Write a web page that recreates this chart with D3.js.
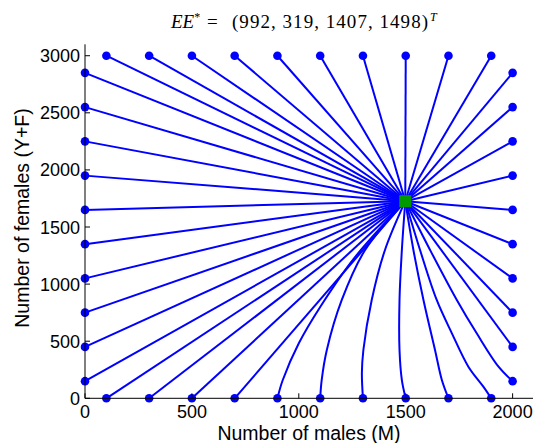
<!DOCTYPE html>
<html>
<head>
<meta charset="utf-8">
<script src="https://cdn.jsdelivr.net/npm/d3@7"></script>
<style>
  body { margin: 0; background: #fff; }
  svg { display: block; }
  .tick-label { font-family: "Liberation Sans", Arial, sans-serif; font-size: 18px; fill: #000; }
  .axis-label { font-family: "Liberation Sans", Arial, sans-serif; font-size: 19.5px; fill: #000; }
  .title { font-family: "Liberation Serif", "DejaVu Serif", serif; font-size: 19px; fill: #000; }
</style>
</head>
<body>
<svg id="chart"></svg>
<script>
// equilibrium (M, Y+F)
const eqPoint = [1498, 1726]

// start points on each edge
const bottomX = [100, 300, 500, 700, 900, 1100, 1300, 1500, 1700, 1900]
const topX = [100, 300, 500, 700, 900, 1100, 1300, 1500, 1700, 1900]
const leftY = [150, 450, 750, 1050, 1350, 1650, 1950, 2250, 2550, 2850]
const rightY = [150, 450, 750, 1050, 1350, 1650, 1950, 2250, 2550, 2850]

// points read along the bent trajectories (start and eq left out)
const bendsBottom = {
  900: [[925, 160], [1000, 482], [1100, 800], [1260, 1230]],
  1100: [[1107, 160], [1131, 423], [1201, 861], [1310, 1299]],
  1300: [[1295, 221], [1302, 423], [1341, 861], [1403, 1299]],
  1500: [[1482, 160], [1471, 423], [1471, 861], [1482, 1299]],
  1700: [[1669, 160], [1637, 423], [1583, 861], [1536, 1299]],
  1900: [[1863, 102], [1793, 277], [1716, 569], [1645, 861], [1567, 1299]]
}
const bendsRight = {
  150: [[1934, 277], [1832, 569], [1739, 861], [1614, 1299]]
}

const xTicks = [0, 500, 1000, 1500, 2000]
const yTicks = [0, 500, 1000, 1500, 2000, 2500, 3000]

const W = 533, H = 443

const svg = d3.select('#chart').attr('width', W).attr('height', H)

const x = d3.scaleLinear().domain([0, 2100]).range([85, 534])
const y = d3.scaleLinear().domain([0, 3100]).range([398.3, 44.3])

// build trajectories
const starts = []
const trajs = []
bottomX.forEach(v => {
    starts.push([v, 0])
    trajs.push([[v, 0], ...(bendsBottom[v] || []), eqPoint])
})
topX.forEach(v => {
    starts.push([v, 3000])
    trajs.push([[v, 3000], eqPoint])
})
leftY.forEach(v => {
    starts.push([0, v])
    trajs.push([[0, v], eqPoint])
})
rightY.forEach(v => {
    starts.push([2000, v])
    trajs.push([[2000, v], ...(bendsRight[v] || []), eqPoint])
})

const line = d3.line()
    .x(d => x(d[0]))
    .y(d => y(d[1]))
    .curve(d3.curveCatmullRom.alpha(0.5))

svg.append('g')
    .selectAll('path')
    .data(trajs)
    .enter()
    .append('path')
    .attr('d', line)
    .attr('fill', 'none')
    .attr('stroke', '#0000ff')
    .attr('stroke-width', 2)

svg.append('g')
    .selectAll('circle')
    .data(starts)
    .enter()
    .append('circle')
    .attr('cx', d => x(d[0]))
    .attr('cy', d => y(d[1]))
    .attr('r', 4.3)
    .attr('fill', '#0000ff')

svg.append('rect')
    .attr('x', x(eqPoint[0]) - 6)
    .attr('y', y(eqPoint[1]) - 6)
    .attr('width', 12)
    .attr('height', 12)
    .attr('fill', '#009a00')

// axes
const axisG = svg.append('g')
axisG.append('line')
    .attr('x1', x(0)).attr('x2', 534)
    .attr('y1', y(0)).attr('y2', y(0))
    .attr('stroke', '#000').attr('stroke-width', 1)
axisG.append('line')
    .attr('x1', x(0)).attr('x2', x(0))
    .attr('y1', y(0)).attr('y2', y(3100))
    .attr('stroke', '#000').attr('stroke-width', 1)

axisG.selectAll('.xt')
    .data(xTicks)
    .enter()
    .append('line')
    .attr('x1', d => x(d)).attr('x2', d => x(d))
    .attr('y1', y(0)).attr('y2', y(0) - 5)
    .attr('stroke', '#000')

axisG.selectAll('.xl')
    .data(xTicks)
    .enter()
    .append('text')
    .attr('class', 'tick-label')
    .attr('x', d => x(d))
    .attr('y', 418)
    .attr('text-anchor', 'middle')
    .text(d => d)

axisG.selectAll('.yt')
    .data(yTicks)
    .enter()
    .append('line')
    .attr('x1', x(0)).attr('x2', x(0) + 5)
    .attr('y1', d => y(d)).attr('y2', d => y(d))
    .attr('stroke', '#000')

axisG.selectAll('.yl')
    .data(yTicks)
    .enter()
    .append('text')
    .attr('class', 'tick-label')
    .attr('x', 80)
    .attr('y', d => y(d) + 6.5)
    .attr('text-anchor', 'end')
    .text(d => d)

svg.append('text')
    .attr('class', 'axis-label')
    .attr('x', 309)
    .attr('y', 440)
    .attr('text-anchor', 'middle')
    .text('Number of males (M)')

svg.append('text')
    .attr('class', 'axis-label')
    .attr('transform', 'translate(29,218) rotate(-90)')
    .attr('text-anchor', 'middle')
    .text('Number of females (Y+F)')

// title, laid out piece by piece to get the wide math spacing
const title = svg.append('text')
    .attr('class', 'title')
    .attr('y', 28)
title.append('tspan').attr('x', 171).attr('font-style', 'italic').text('EE')
title.append('tspan').attr('dy', -7).attr('font-size', 12).text('*')
title.append('tspan').attr('x', 207).attr('dy', 7).text('=')
title.append('tspan').attr('x', 232)
    .attr('textLength', 196).attr('lengthAdjust', 'spacing')
    .text('(992, 319, 1407, 1498)')
title.append('tspan').attr('x', 430).attr('dy', -7).attr('font-size', 12).attr('font-style', 'italic').text('T')
</script>
</body>
</html>
